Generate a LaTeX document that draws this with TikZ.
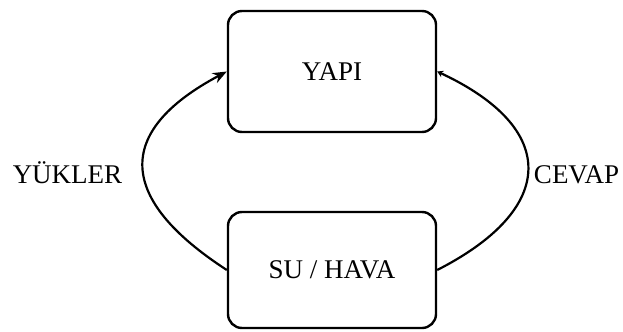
\documentclass[tikz,border=0pt]{standalone}
\usepackage{fontspec}
\setmainfont{Liberation Serif}
\usetikzlibrary{arrows.meta}

\begin{document}
\begin{tikzpicture}[x=1bp,y=1bp,
  box/.style={draw,line width=2.4bp,rounded corners=14bp,minimum width=208bp,font=\fontsize{27bp}{32bp}\selectfont},
  lbl/.style={anchor=base,font=\fontsize{27bp}{32bp}\selectfont},
  flow/.style={line width=2.2bp}]
  \useasboundingbox (0,0) rectangle (623,331);

  \node [box,minimum height=121bp] (yapi) at (332,259.5) {YAPI};
  \node [box,minimum height=116bp] (suhava) at (332,61) {SU / HAVA};

  \draw [flow,-{Stealth[length=14bp,width=11bp]}] (suhava.west) to [out=147,in=208,looseness=1.67] (yapi.west);
  \draw [flow,-{Stealth[length=6bp,width=7bp]}] (suhava.east) to [out=27,in=335,looseness=1.74] (yapi.east);

  \node [lbl] (yukler) at (67.5,148) {YÜKLER};
  \node [lbl] (cevap) at (576.5,148) {CEVAP};

\end{tikzpicture}
\end{document}
